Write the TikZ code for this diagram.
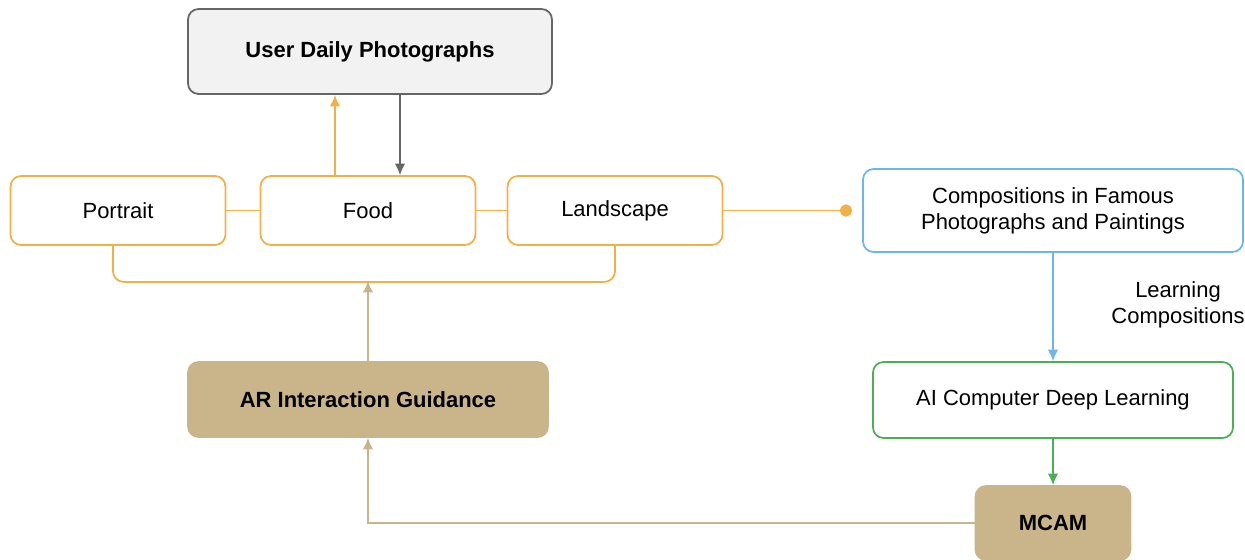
\documentclass[tikz,border=0pt]{standalone}
\usepackage{fontspec}
\setmainfont{Liberation Sans}
\usepackage{xcolor}
\usetikzlibrary{shapes,arrows,arrows.meta,positioning,calc}

\definecolor{borange}{HTML}{F2B046}
\definecolor{bblue}{HTML}{6CB6E8}
\definecolor{bgreen}{HTML}{4DAF55}
\definecolor{btan}{HTML}{C9B589}
\definecolor{bgray}{HTML}{666666}

\begin{document}
\begin{tikzpicture}[
    font=\fontsize{12.5}{15}\selectfont,
    basebox/.style={rectangle, rounded corners=6pt, line width=1pt, align=center, inner sep=0pt},
    catbox/.style={basebox, draw=borange, fill=white, minimum width=4.3cm, minimum height=1.38cm},
    userbox/.style={basebox, draw=bgray, fill=gray!10, minimum width=7.28cm, minimum height=1.7cm, font=\fontsize{12.5}{15}\selectfont\bfseries},
    tanbox/.style={basebox, draw=btan, fill=btan, font=\fontsize{12.5}{15}\selectfont\bfseries},
    orangeline/.style={draw=borange, line width=1pt},
    arrow/.style={-{Latex[length=6.5pt,width=6pt]}, line width=1pt}
]
\useasboundingbox (0,0) rectangle (24.9,-11.2);

\node[userbox] (user) at (7.4,-1.03) {User Daily Photographs};
\node[catbox] (portrait) at (2.36,-4.21) {Portrait};
\node[catbox] (food) at (7.36,-4.21) {Food};
\node[catbox] (landscape) at (12.3,-4.21) {Landscape};

\node[basebox, draw=bblue, minimum width=7.6cm, minimum height=1.66cm] (famous) at (21.06,-4.21) {Compositions in Famous\\Photographs and Paintings};
\node[basebox, draw=bgreen, minimum width=7.2cm, minimum height=1.52cm] (deep) at (21.06,-8.0) {AI Computer Deep Learning};
\node[tanbox, minimum width=3.1cm, minimum height=1.48cm] (mcam) at (21.06,-10.46) {MCAM};
\node[tanbox, minimum width=7.2cm, minimum height=1.5cm] (guide) at (7.36,-7.99) {AR Interaction Guidance};

\node[align=center] (learnlbl) at (23.56,-6.1) {Learning\\Compositions};
\coordinate (bracket) at (7.36,-5.62);

% category row
\draw[orangeline] (portrait) -- (food);
\draw[orangeline] (food) -- (landscape);
\draw[orangeline, rounded corners=6pt] ([xshift=-0.1cm]portrait.south) -- ++(0,-0.72) -| (landscape.south);
\draw[orangeline, -{Circle[length=7pt]}, shorten >=0.2cm] (landscape.east) -- (landscape.east -| famous.west);

% photographs
\draw[arrow, borange] ([xshift=-0.66cm]food.north) -- ([xshift=-0.66cm]food.north |- user.south);
\draw[arrow, bgray] ([xshift=0.64cm]food.north |- user.south) -- ([xshift=0.64cm]food.north);

% learning chain
\draw[arrow, bblue] (famous) -- (deep);
\draw[arrow, bgreen] (deep) -- (mcam);
\draw[arrow, btan] (mcam.west) -| (guide.south);
\draw[arrow, btan] (guide.north) -- (bracket);

\end{tikzpicture}
\end{document}
